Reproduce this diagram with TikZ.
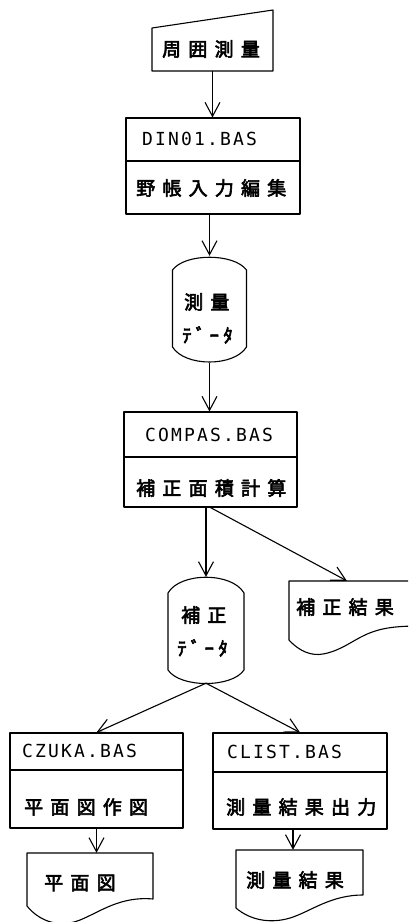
\documentclass[tikz,border=0pt]{standalone}
\usepackage{fontspec}
\usetikzlibrary{arrows.meta,calc}
\newfontfamily\cjk[FakeBold=3,LetterSpace=38]{Noto Sans CJK JP}
\newfontfamily\cjkh[FakeBold=3,LetterSpace=22]{Noto Sans CJK JP}
\newfontfamily\mono[LetterSpace=12]{DejaVu Sans Mono}
\tikzset{
  ln/.style={line width=1.1pt, line join=round},
  arr/.style={ln, -{Straight Barb[length=14pt,width=15pt,line width=1.1pt]}},
  box/.style={draw, ln, inner sep=0pt},
  hid/.style={inner sep=0pt},
  jp/.style={font={\cjk\fontsize{19}{22}\selectfont}, inner sep=0pt, anchor=west},
  jph/.style={font={\cjkh\fontsize{19}{22}\selectfont}, inner sep=0pt, anchor=west},
  code/.style={font={\mono\fontsize{18}{20}\selectfont}, inner sep=0pt, anchor=west}
}
\begin{document}
\begin{tikzpicture}[x=1pt,y=-1pt]
\useasboundingbox (0,0) rectangle (408,922);
\clip (0,0) rectangle (408,922);
% manual input
\node[hid, minimum width=121pt, minimum height=61pt] (mi) at (212.5,40.5) {};
\draw[ln] (152,28) -- (273,10) -- (273,71) -- (152,71) -- cycle;
\node[jp] (tmi) at (162,49) {周囲測量};
% DIN01
\node[box, minimum width=174pt, minimum height=96pt] (din) at (213,166) {};
\draw[ln] (din.west |- 0,161) -- (din.east |- 0,161);
\node[code] (tdin) at (142,139) {DIN01.BAS};
\node[jp] (tdinj) at (136,188) {野帳入力編集};
% storage 1
\node[hid, minimum width=74pt, minimum height=107pt] (sd1) at (209.5,309.5) {};
\draw[ln] (172.5,270) .. controls (185,253) and (234,253) .. (246.5,270) -- (246.5,347)
  .. controls (234,367) and (185,367) .. (172.5,347) -- cycle;
\node[jp] (tsd1a) at (184,302) {測量};
\node[jph] (tsd1b) at (182,335) {ﾃﾞｰﾀ};
% COMPAS
\node[box, minimum width=173pt, minimum height=95pt] (comp) at (210.5,459.5) {};
\draw[ln] (comp.west |- 0,457) -- (comp.east |- 0,457);
\node[code] (tcomp) at (145,435) {COMPAS.BAS};
\node[jp] (tcompj) at (136,488) {補正面積計算};
% storage 2
\node[hid, minimum width=76pt, minimum height=106pt] (sd2) at (206,630) {};
\draw[ln] (168,593) .. controls (180,572) and (232,572) .. (244,593) -- (244,670)
  .. controls (232,688) and (180,688) .. (168,670) -- cycle;
\node[jp] (tsd2a) at (181,615) {補正};
\node[jph] (tsd2b) at (177,648) {ﾃﾞｰﾀ};
% result document
\node[hid, minimum width=131pt, minimum height=74pt] (res) at (354.5,618) {};
\draw[ln] (420,581) -- (289,581) -- (289,640) .. controls (300,652) and (312,656) .. (323,654)
  .. controls (340,651) and (352,641) .. (365,635) .. controls (380,628) and (395,626) .. (420,626);
\node[jp] (tres) at (296,607) {補正結果};
% CZUKA
\node[box, minimum width=173pt, minimum height=95pt] (czuka) at (96.5,780.5) {};
\draw[ln] (czuka.west |- 0,770) -- (czuka.east |- 0,770);
\node[code] (tczuka) at (22,751) {CZUKA.BAS};
\node[jp] (tczukaj) at (24,807) {平面図作図};
% CLIST
\node[box, minimum width=174pt, minimum height=96pt] (clist) at (300,781) {};
\draw[ln] (clist.west |- 0,772) -- (clist.east |- 0,772);
\node[code] (tclist) at (227,752) {CLIST.BAS};
\node[jp] (tclistj) at (226,807) {測量結果出力};
% doc 1
\node[hid, minimum width=126pt, minimum height=68pt] (doc1) at (90,887) {};
\draw[ln] (27,853) -- (153,853) -- (153,899) .. controls (120,896) and (100,912) .. (80,920)
  .. controls (60,928) and (40,922) .. (27,906) -- cycle;
\node[jp] (tdoc1) at (44,883) {平面図};
% doc 2
\node[hid, minimum width=127pt, minimum height=70pt] (doc2) at (299.5,885) {};
\draw[ln] (236,850) -- (363,850) -- (363,895) .. controls (330,895) and (310,912) .. (290,918)
  .. controls (270,924) and (250,920) .. (236,908) -- cycle;
\node[jp] (tdoc2) at (246,880) {測量結果};
% connectors
\draw[arr] (mi.south) -- (mi.south |- din.north);
\draw[arr] (din.south -| sd1.north) -- (sd1.north);
\draw[arr] (sd1.south) -- (sd1.south |- comp.north);
\draw[arr] (comp.south -| sd2.north) -- (sd2.north);
\draw[arr] (comp.south) -- ($(res.north west)+(58,0)$);
\draw[arr] (sd2.south) -- (czuka.north);
\draw[arr] (sd2.south) -- (clist.north);
\draw[arr] (czuka.south) -- (czuka.south |- doc1.north);
\draw[arr] ($(clist.south)+(-7,0)$) -- ($(clist.south |- doc2.north)+(-7,0)$);
\end{tikzpicture}
\end{document}
